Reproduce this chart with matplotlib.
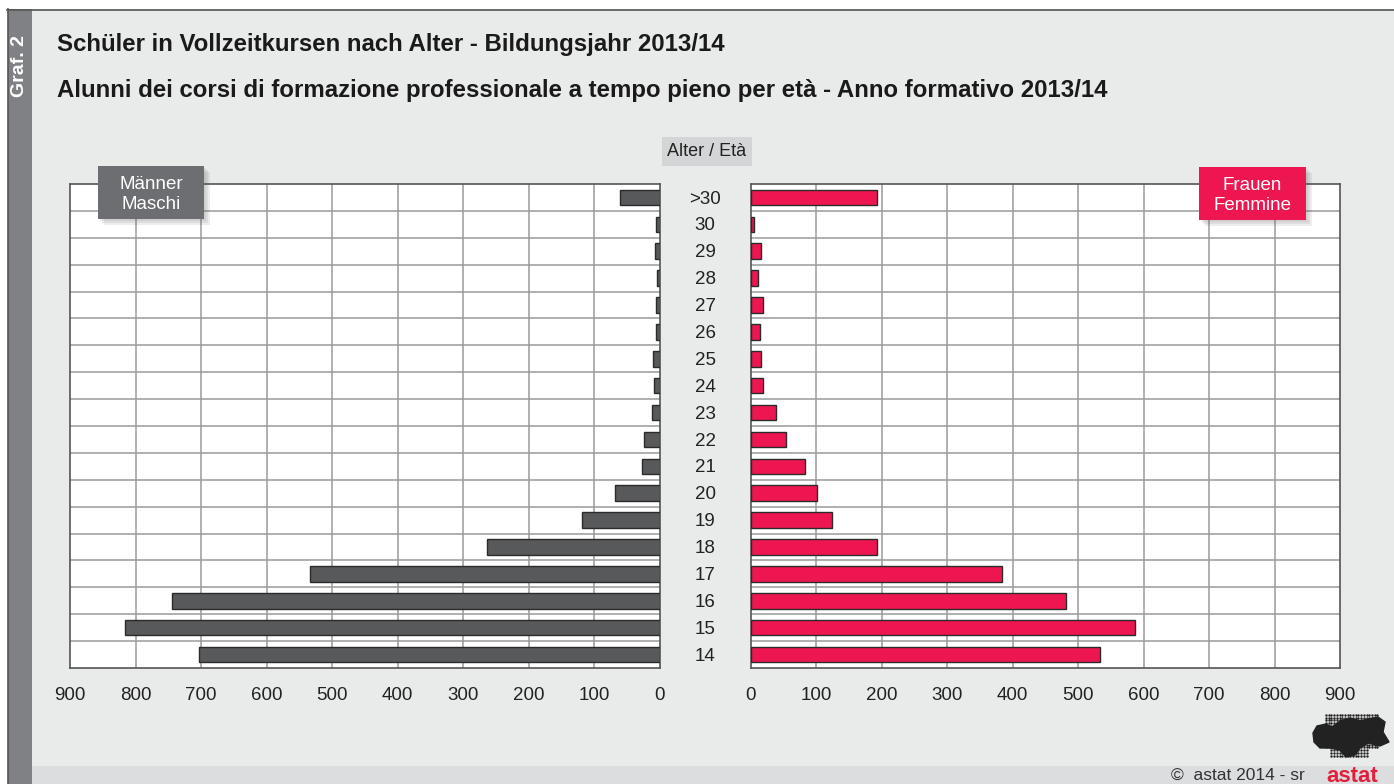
import matplotlib
matplotlib.use("Agg")
import matplotlib.pyplot as plt
import matplotlib.transforms as mtransforms
from matplotlib.patches import Rectangle, Polygon
import numpy as np

plt.rcParams['font.family'] = ['Liberation Sans', 'DejaVu Sans']

# ---- data (bottom to top) ----
ages = ['14', '15', '16', '17', '18', '19', '20', '21', '22', '23', '24',
        '25', '26', '27', '28', '29', '30', '>30']
male = [703, 816, 744, 534, 263, 119, 68, 26, 23, 11, 8, 10, 6, 6, 4, 7, 5, 60]
female = [533, 587, 481, 384, 192, 124, 101, 83, 54, 38, 19, 16, 13, 18, 11, 16, 5, 192]
xticks = [0, 100, 200, 300, 400, 500, 600, 700, 800, 900]

title_de = "Schüler in Vollzeitkursen nach Alter - Bildungsjahr 2013/14"
title_it = "Alunni dei corsi di formazione professionale a tempo pieno per età - Anno formativo 2013/14"

W, H = 1394, 784
BG = '#E9EAEA'
MALE_C = '#58595B'
FEM_C = '#EE1651'
GRID_C = '#9A9A9A'

fig = plt.figure(figsize=(W / 100, H / 100), dpi=100)
fig.patch.set_facecolor(BG)


def fx(px):
    return px / W


def fy(py):
    return 1 - py / H


def frect(x0, y0, x1, y1, **kw):
    r = Rectangle((fx(x0), fy(y1)), fx(x1) - fx(x0), fy(y0) - fy(y1),
                  transform=fig.transFigure, **kw)
    fig.add_artist(r)
    return r


# frame / strips
frect(0, 0, W, 9, facecolor='white', edgecolor='none', zorder=0)
frect(0, 0, 7, H, facecolor='white', edgecolor='none', zorder=0)
frect(8, 9, 32, H, facecolor='#808184', edgecolor='none', zorder=1)
frect(32, 766, W, H, facecolor='#DCDDDE', edgecolor='none', zorder=1)
fig.add_artist(plt.Line2D([fx(7), fx(W)], [fy(9.5), fy(9.5)], transform=fig.transFigure,
                          color='#555555', lw=1.2, zorder=2))
fig.add_artist(plt.Line2D([fx(7.5), fx(7.5)], [fy(9), fy(H)], transform=fig.transFigure,
                          color='#555555', lw=1.2, zorder=2))

fig.text(fx(20), fy(66), 'Graf. 2', rotation=90, color='white', fontsize=14,
         fontweight='bold', ha='center', va='center')

fig.text(fx(57), fy(45), title_de, fontsize=17.3, fontweight='bold', color='#1a1a1a',
         ha='left', va='center')
fig.text(fx(57), fy(90), title_it, fontsize=17.3, fontweight='bold', color='#1a1a1a',
         ha='left', va='center')

# axes
top, bot = 184, 668
axL = fig.add_axes([fx(70), fy(bot), fx(659.5) - fx(70), fy(top) - fy(bot)])
axR = fig.add_axes([fx(751), fy(bot), fx(1340) - fx(751), fy(top) - fy(bot)])

y = np.arange(len(ages))
for ax, vals, col in ((axL, male, MALE_C), (axR, female, FEM_C)):
    ax.set_facecolor('white')
    ax.barh(y, vals, height=0.58, color=col, edgecolor='#2b2b2b', linewidth=1.0, zorder=3)
    ax.set_ylim(-0.5, len(ages) - 0.5)
    ax.set_xticks(xticks)
    ax.set_xticklabels([str(t) for t in xticks], fontsize=13.5, color='#222222')
    ax.tick_params(axis='x', length=0, pad=14)
    ax.set_yticks([])
    for t in xticks[1:-1]:
        ax.axvline(t, color=GRID_C, lw=1.1, zorder=1)
    for b in np.arange(0.5, len(ages) - 0.5, 1):
        ax.axhline(b, color=GRID_C, lw=1.1, zorder=1)
    for s in ax.spines.values():
        s.set_color('#555555')
        s.set_linewidth(1.2)
axL.set_xlim(900, 0)
axR.set_xlim(0, 900)

# age labels in the middle
trans = mtransforms.blended_transform_factory(fig.transFigure, axR.transData)
for yi, lab in zip(y, ages):
    fig.text(fx(705), yi - 0.06, lab, transform=trans, fontsize=13.5, color='#222222',
             ha='center', va='center')

# Alter / Età box
frect(662, 137, 752, 166, facecolor='#D4D5D6', edgecolor='none', zorder=2)
fig.text(fx(707), fy(152), 'Alter / Età', fontsize=13, color='#222222',
         ha='center', va='center', zorder=3)

# legend boxes with soft shadow
def label_box(x0, y0, x1, y1, color, text):
    for i, a in enumerate([0.10, 0.10, 0.10]):
        d = 2 + i * 2
        frect(x0 + d, y0 + d, x1 + d, y1 + d, facecolor='#555555', edgecolor='none',
              alpha=a, zorder=5)
    frect(x0, y0, x1, y1, facecolor=color, edgecolor='none', zorder=6)
    fig.text(fx((x0 + x1) / 2), fy((y0 + y1) / 2 + 2), text, fontsize=13.5, color='white',
             ha='center', va='center', linespacing=1.3, zorder=7)


label_box(98, 166, 204, 219, '#6D6E71', 'Männer\nMaschi')
label_box(1199, 167, 1306, 220, FEM_C, 'Frauen\nFemmine')

# footer
fig.text(fx(1238), fy(775), '©  astat 2014 - sr', fontsize=12.5, color='#333333',
         ha='center', va='center', zorder=3)
fig.text(fx(1352), fy(776), 'astat', fontsize=16, fontweight='bold', color='#E31E3C',
         ha='center', va='center', zorder=3)

# logo: dotted map shape (pixel coordinates inside a small axes)
LX0, LY0 = 1310, 712
logo_ax = fig.add_axes([fx(LX0), fy(LY0 + 54), fx(LX0 + 82) - fx(LX0), fy(LY0) - fy(LY0 + 54)])
logo_ax.set_xlim(LX0, LX0 + 82)
logo_ax.set_ylim(LY0 + 54, LY0)
logo_ax.axis('off')
gx, gy = np.meshgrid(np.arange(1326, 1379, 2.7), np.arange(715, 758, 2.7))
gx, gy = gx.ravel(), gy.ravel()
keep = (gy < 750) | ((gx > 1331) & (gx < 1368))
logo_ax.scatter(gx[keep], gy[keep], s=3.0, color='#222222', linewidths=0)
blob = [(1313, 733), (1317, 726), (1326, 724), (1332, 727), (1340, 721), (1350, 718),
        (1360, 721), (1368, 719), (1378, 717), (1385, 722), (1383, 732), (1389, 742),
        (1380, 746), (1368, 743), (1360, 748), (1355, 755), (1346, 757), (1340, 750),
        (1330, 748), (1320, 748), (1314, 742)]
logo_ax.add_patch(Polygon(blob, closed=True, color='#222222'))

fig.savefig('out.png', dpi=100, facecolor=fig.get_facecolor())
